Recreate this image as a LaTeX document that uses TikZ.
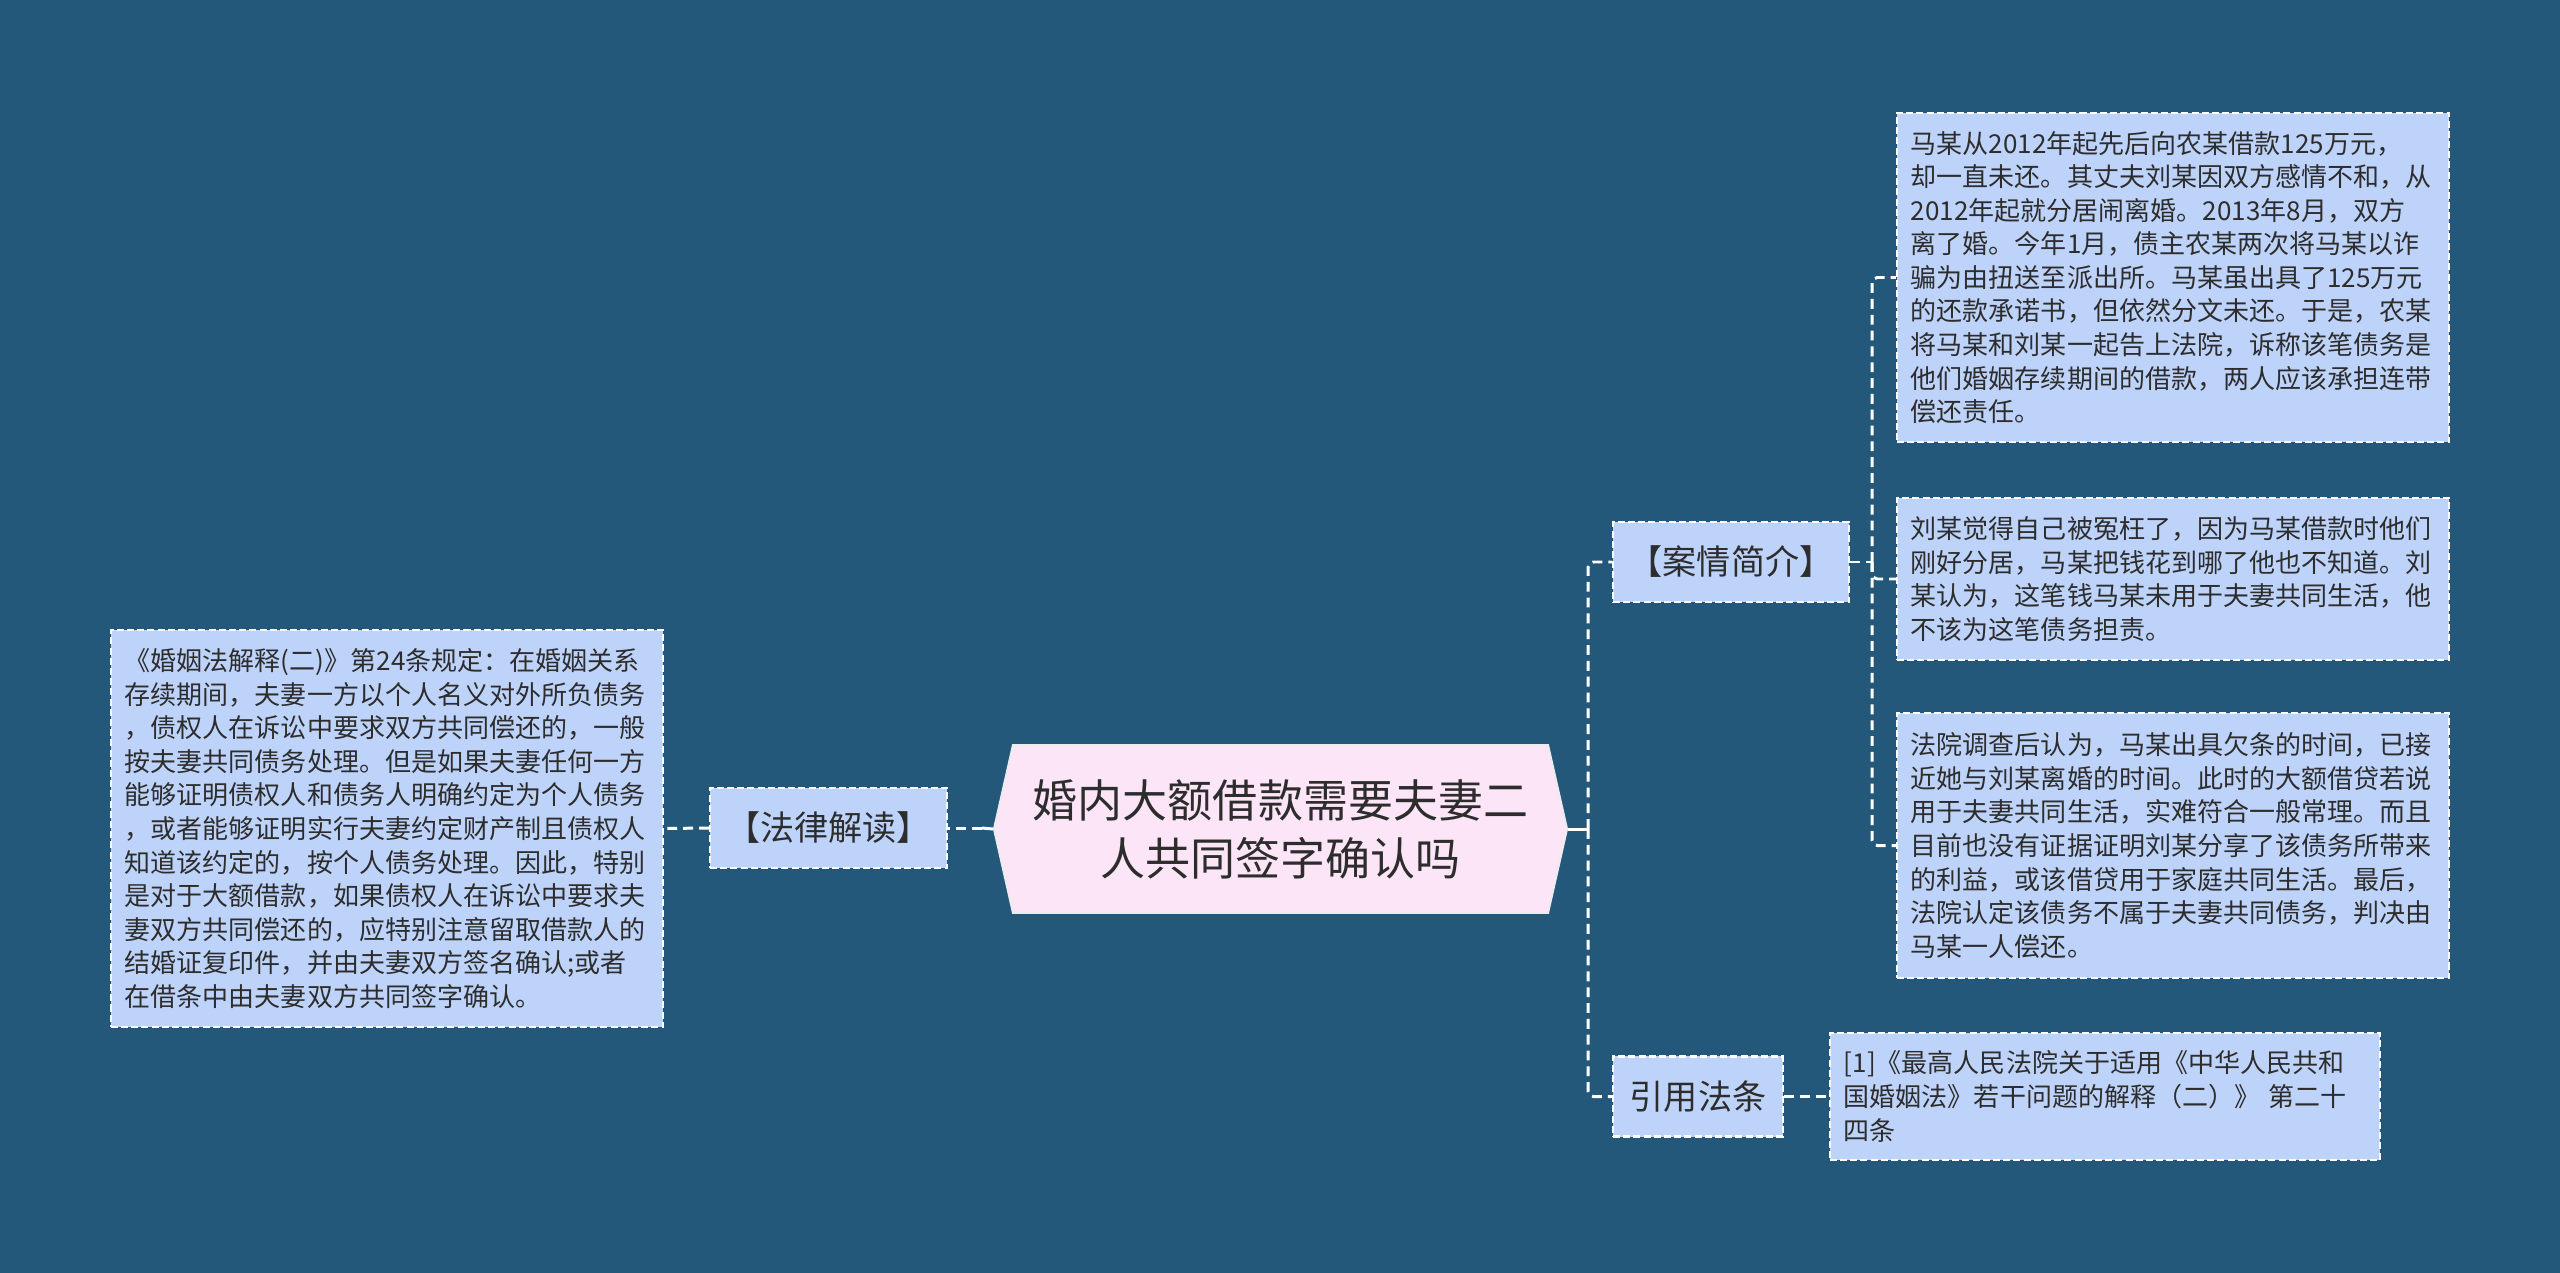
\documentclass[tikz,border=0pt]{standalone}
\usepackage{fontspec}
\setmainfont{Noto Sans CJK SC}
\usepackage{tikz}
\usetikzlibrary{shapes.symbols}
\definecolor{sfondo}{RGB}{35,88,123}
\definecolor{azzurro}{RGB}{190,211,250}
\definecolor{rosa}{RGB}{253,229,248}
\definecolor{inchiostro}{RGB}{45,45,45}
\tikzstyle{titolo} = [signal, signal to=west and east, signal pointer angle=154.5, fill=rosa, draw=white!85!gray, line width=0.5pt, minimum width=5.73cm, minimum height=1.68cm, inner sep=0pt, text=inchiostro, align=center, font=\fontsize{12.8pt}{16.5pt}\selectfont]
\tikzstyle{voce} = [rectangle, fill=azzurro, draw=white, line width=0.6pt, dash pattern=on 2pt off 0.9pt, minimum height=0.8cm, inner sep=0pt, text=inchiostro, font=\fontsize{9.7pt}{12pt}\selectfont]
\tikzstyle{testo} = [rectangle, fill=azzurro, draw=white, line width=0.6pt, dash pattern=on 2pt off 0.9pt, text width=5.24cm, inner xsep=0.14cm, inner ysep=0pt, align=left, text=inchiostro, font=\fontsize{7.4pt}{9.55pt}\selectfont]
\tikzstyle{tratto} = [draw=white, line width=0.85pt, dash pattern=on 2.8pt off 1.7pt, rounded corners=1.5pt]
\tikzstyle{pieno} = [draw=white, line width=0.85pt]

\begin{document}
\begin{tikzpicture}[x=0.01cm, y=-0.01cm]
	\useasboundingbox (0,0) rectangle (2560,1273);
	\fill[sfondo] (0,0) rectangle (2560,1273);
	\node (root) at (1280.5,829) [titolo] {婚内大额借款需要夫妻二\\人共同签字确认吗};
	\node (legge) at (828.5,828) [voce, minimum width=2.37cm] {【法律解读】};
	\node (norma) at (387,828.5) [testo, minimum height=3.97cm] {《婚姻法解释(二)》第24条规定：在婚姻关系\\存续期间，夫妻一方以个人名义对外所负债务\\，债权人在诉讼中要求双方共同偿还的，一般\\按夫妻共同债务处理。但是如果夫妻任何一方\\能够证明债权人和债务人明确约定为个人债务\\，或者能够证明实行夫妻约定财产制且债权人\\知道该约定的，按个人债务处理。因此，特别\\是对于大额借款，如果债权人在诉讼中要求夫\\妻双方共同偿还的，应特别注意留取借款人的\\结婚证复印件，并由夫妻双方签名确认;或者\\在借条中由夫妻双方共同签字确认。};
	\node (caso) at (1731,562) [voce, minimum width=2.36cm] {【案情简介】};
	\node (cita) at (1698,1096.5) [voce, minimum width=1.70cm] {引用法条};
	\node (f1) at (2173,277.5) [testo, minimum height=3.29cm] {马某从2012年起先后向农某借款125万元，\\却一直未还。其丈夫刘某因双方感情不和，从\\2012年起就分居闹离婚。2013年8月，双方\\离了婚。今年1月，债主农某两次将马某以诈\\骗为由扭送至派出所。马某虽出具了125万元\\的还款承诺书，但依然分文未还。于是，农某\\将马某和刘某一起告上法院，诉称该笔债务是\\他们婚姻存续期间的借款，两人应该承担连带\\偿还责任。};
	\node (f2) at (2173,579) [testo, minimum height=1.62cm] {刘某觉得自己被冤枉了，因为马某借款时他们\\刚好分居，马某把钱花到哪了他也不知道。刘\\某认为，这笔钱马某未用于夫妻共同生活，他\\不该为这笔债务担责。};
	\node (f3) at (2173,845.5) [testo, minimum height=2.65cm] {法院调查后认为，马某出具欠条的时间，已接\\近她与刘某离婚的时间。此时的大额借贷若说\\用于夫妻共同生活，实难符合一般常理。而且\\目前也没有证据证明刘某分享了该债务所带来\\的利益，或该借贷用于家庭共同生活。最后，\\法院认定该债务不属于夫妻共同债务，判决由\\马某一人偿还。};
	\node (f4) at (2105,1096.5) [testo, text width=5.22cm, minimum height=1.27cm] {[1]《最高人民法院关于适用《中华人民共和\\国婚姻法》若干问题的解释（二）》 第二十\\四条};
	\coordinate (dx) at (1588,829);
	\coordinate (sx) at (982,828);
	\coordinate (rc) at (1872,562);
	\draw[pieno] (root.east) -- (dx);
	\draw[tratto] (dx) |- (caso.west);
	\draw[tratto] (dx) |- (cita.west);
	\draw[pieno] (root.west) -- (sx);
	\draw[tratto] (sx) -- (legge.east);
	\draw[tratto] (legge.west) -- (norma.east);
	\draw[tratto] (caso.east) -- (rc);
	\draw[tratto] (rc) |- (f1.west);
	\draw[tratto] (rc) |- (f2.west);
	\draw[tratto] (rc) |- (f3.west);
	\draw[tratto] (cita.east) -- (f4.west);
\end{tikzpicture}
\end{document}
